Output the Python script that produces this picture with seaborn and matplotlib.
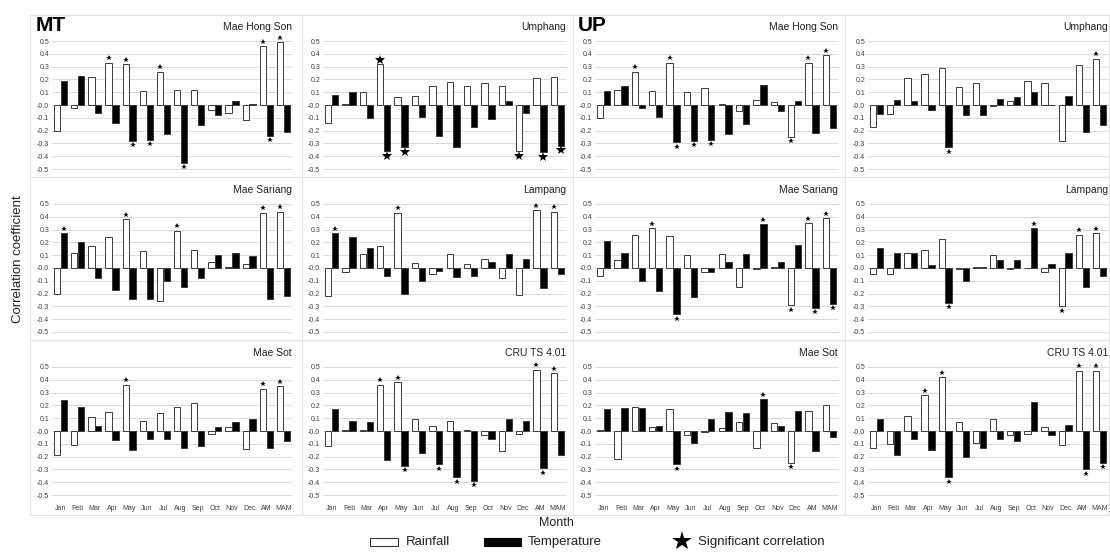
import numpy as np
import pandas as pd
import matplotlib
matplotlib.use("Agg")
import matplotlib.pyplot as plt
import seaborn as sns
from matplotlib.patches import Rectangle

sns.set_style("white")
plt.rcParams["font.family"] = ["Liberation Sans", "DejaVu Sans"]

months = ["Jan", "Feb", "Mar", "Apr", "May", "Jun", "Jul", "Aug", "Sep",
          "Oct", "Nov", "Dec", "AM", "MAM"]

# ── MT ─────────────────────────────────────────────────────────────────────
mt_mhs_rain = [-0.20, -0.02, 0.22, 0.33, 0.32, 0.11, 0.26, 0.12, 0.12, -0.04, -0.06, -0.12, 0.46, 0.49]
mt_mhs_temp = [0.19, 0.23, -0.06, -0.14, -0.28, -0.27, -0.23, -0.45, -0.16, -0.08, 0.03, 0.005, -0.24, -0.21]
mt_mhs_rain_sig = ["Apr", "May", "Jul", "AM", "MAM"]
mt_mhs_temp_sig = ["May", "Jun", "Aug", "AM"]

mt_ump_rain = [-0.14, 0.01, 0.10, 0.32, 0.06, 0.07, 0.15, 0.18, 0.15, 0.17, 0.15, -0.36, 0.21, 0.22]
mt_ump_temp = [0.08, 0.10, -0.10, -0.36, -0.33, -0.09, -0.24, -0.33, -0.17, -0.11, 0.03, -0.06, -0.37, -0.32]
mt_ump_rain_sig = ["Apr", "Dec"]
mt_ump_temp_sig = ["Apr", "May", "AM", "MAM"]

mt_msr_rain = [-0.20, 0.12, 0.17, 0.24, 0.38, 0.13, -0.26, 0.29, 0.14, 0.05, 0.01, 0.03, 0.43, 0.44]
mt_msr_temp = [0.27, 0.20, -0.08, -0.17, -0.24, -0.24, -0.10, -0.15, -0.08, 0.10, 0.12, 0.09, -0.24, -0.22]
mt_msr_rain_sig = ["May", "Aug", "AM", "MAM"]
mt_msr_temp_sig = ["Jan"]

mt_lpg_rain = [-0.22, -0.03, 0.11, 0.17, 0.43, 0.04, -0.05, 0.11, 0.03, 0.07, -0.08, -0.21, 0.45, 0.44]
mt_lpg_temp = [0.27, 0.24, 0.16, -0.06, -0.20, -0.10, -0.02, -0.07, -0.06, 0.05, 0.11, 0.07, -0.16, -0.05]
mt_lpg_rain_sig = ["May", "AM", "MAM"]
mt_lpg_temp_sig = ["Jan"]

mt_mst_rain = [-0.19, -0.11, 0.11, 0.15, 0.36, 0.08, 0.14, 0.19, 0.22, -0.02, 0.03, -0.14, 0.33, 0.35]
mt_mst_temp = [0.24, 0.19, 0.04, -0.07, -0.15, -0.06, -0.06, -0.13, -0.12, 0.03, 0.07, 0.09, -0.13, -0.08]
mt_mst_rain_sig = ["May", "AM", "MAM"]
mt_mst_temp_sig = []

mt_cru_rain = [-0.12, 0.01, 0.005, 0.36, 0.38, 0.09, 0.04, 0.08, 0.005, -0.03, -0.16, -0.02, 0.48, 0.45]
mt_cru_temp = [0.17, 0.08, 0.07, -0.23, -0.27, -0.17, -0.26, -0.36, -0.39, -0.06, 0.09, 0.08, -0.29, -0.19]
mt_cru_rain_sig = ["Apr", "May", "AM", "MAM"]
mt_cru_temp_sig = ["May", "Jul", "Aug", "Sep", "AM"]

# ── UP ─────────────────────────────────────────────────────────────────────
up_mhs_rain = [-0.10, 0.12, 0.26, 0.11, 0.33, 0.10, 0.13, 0.005, -0.05, 0.04, 0.02, -0.25, 0.33, 0.39]
up_mhs_temp = [0.11, 0.15, -0.02, -0.09, -0.29, -0.28, -0.27, -0.23, -0.15, 0.16, -0.05, 0.03, -0.22, -0.18]
up_mhs_rain_sig = ["Mar", "May", "Dec", "AM", "MAM"]
up_mhs_temp_sig = ["May", "Jun", "Jul"]

up_ump_rain = [-0.17, -0.07, 0.21, 0.24, 0.29, 0.14, 0.17, -0.01, 0.03, 0.19, 0.17, -0.28, 0.31, 0.36]
up_ump_temp = [-0.07, 0.04, 0.03, -0.04, -0.33, -0.08, -0.08, 0.05, 0.06, 0.10, 0.0, 0.07, -0.21, -0.16]
up_ump_rain_sig = ["MAM"]
up_ump_temp_sig = ["May"]

up_msr_rain = [-0.06, 0.06, 0.26, 0.31, 0.25, 0.10, -0.03, 0.11, -0.15, -0.01, 0.01, -0.29, 0.35, 0.39]
up_msr_temp = [0.21, 0.12, -0.10, -0.18, -0.36, -0.23, -0.03, 0.05, 0.11, 0.34, 0.05, 0.18, -0.31, -0.28]
up_msr_rain_sig = ["Apr", "Dec", "AM", "MAM"]
up_msr_temp_sig = ["May", "Oct", "AM", "MAM"]

up_lpg_rain = [-0.05, -0.05, 0.12, 0.14, 0.23, -0.01, 0.01, 0.10, -0.005, 0.0, -0.03, -0.30, 0.26, 0.27]
up_lpg_temp = [0.16, 0.12, 0.12, 0.02, -0.27, -0.10, 0.01, 0.06, 0.06, 0.31, 0.03, 0.12, -0.15, -0.06]
up_lpg_rain_sig = ["Dec", "AM", "MAM"]
up_lpg_temp_sig = ["May", "Oct"]

up_mst_rain = [0.01, -0.22, 0.19, 0.03, 0.17, -0.03, -0.005, 0.02, 0.07, -0.13, 0.06, -0.25, 0.16, 0.20]
up_mst_temp = [0.17, 0.18, 0.18, 0.04, -0.26, -0.09, 0.09, 0.15, 0.14, 0.25, 0.04, 0.16, -0.16, -0.05]
up_mst_rain_sig = ["Dec"]
up_mst_temp_sig = ["May", "Oct"]

up_cru_rain = [-0.13, -0.10, 0.12, 0.28, 0.42, 0.07, -0.09, 0.09, -0.03, -0.02, 0.03, -0.11, 0.47, 0.47]
up_cru_temp = [0.09, -0.19, -0.06, -0.15, -0.36, -0.20, -0.13, -0.06, -0.08, 0.23, -0.03, 0.05, -0.30, -0.25]
up_cru_rain_sig = ["Apr", "May", "AM", "MAM"]
up_cru_temp_sig = ["May", "AM", "MAM"]

# (row, col, title, rain, temp, rain_sig, temp_sig, star size)
panels = [
    (0, 0, "Mae Hong Son", mt_mhs_rain, mt_mhs_temp, mt_mhs_rain_sig, mt_mhs_temp_sig, 4),
    (0, 1, "Umphang", mt_ump_rain, mt_ump_temp, mt_ump_rain_sig, mt_ump_temp_sig, 7),
    (0, 2, "Mae Hong Son", up_mhs_rain, up_mhs_temp, up_mhs_rain_sig, up_mhs_temp_sig, 4),
    (0, 3, "Umphang", up_ump_rain, up_ump_temp, up_ump_rain_sig, up_ump_temp_sig, 4),
    (1, 0, "Mae Sariang", mt_msr_rain, mt_msr_temp, mt_msr_rain_sig, mt_msr_temp_sig, 4),
    (1, 1, "Lampang", mt_lpg_rain, mt_lpg_temp, mt_lpg_rain_sig, mt_lpg_temp_sig, 4),
    (1, 2, "Mae Sariang", up_msr_rain, up_msr_temp, up_msr_rain_sig, up_msr_temp_sig, 4),
    (1, 3, "Lampang", up_lpg_rain, up_lpg_temp, up_lpg_rain_sig, up_lpg_temp_sig, 4),
    (2, 0, "Mae Sot", mt_mst_rain, mt_mst_temp, mt_mst_rain_sig, mt_mst_temp_sig, 4),
    (2, 1, "CRU TS 4.01", mt_cru_rain, mt_cru_temp, mt_cru_rain_sig, mt_cru_temp_sig, 4),
    (2, 2, "Mae Sot", up_mst_rain, up_mst_temp, up_mst_rain_sig, up_mst_temp_sig, 4),
    (2, 3, "CRU TS 4.01", up_cru_rain, up_cru_temp, up_cru_rain_sig, up_cru_temp_sig, 4),
]

W, H = 1110, 554
fig = plt.figure(figsize=(W / 100, H / 100), dpi=100)

# layout in pixels
col_plot = [(52, 292), (323, 566), (595, 838), (868, 1108)]
col_frame = [30, 302, 573, 845, 1109]
row_top = [41, 204, 367]          # y pixel of r = 0.5
row_frame = [15, 177, 340, 515]
px_per_unit = 128                 # 0.5 .. -0.5
pad = 0.035

for (r, c, title, rain, temp, rsig, tsig, ssize) in panels:
    x0, x1 = col_plot[c]
    ytop = row_top[r] - pad * px_per_unit
    ybot = row_top[r] + (1 + pad) * px_per_unit
    ax = fig.add_axes([x0 / W, 1 - ybot / H, (x1 - x0) / W, (ybot - ytop) / H])

    df = pd.DataFrame({
        "Month": months * 2,
        "r": list(rain) + list(temp),
        "Variable": ["Rainfall"] * 14 + ["Temperature"] * 14,
    })
    sns.barplot(data=df, x="Month", y="r", hue="Variable", order=months,
                palette={"Rainfall": "white", "Temperature": "black"},
                edgecolor="#3a3a3a", linewidth=0.7, width=0.8, gap=0.08,
                legend=False, ax=ax, zorder=3)

    # significance stars from the drawn bars
    for p in ax.patches:
        cx = p.get_x() + p.get_width() / 2
        h = p.get_height()
        i = int(round(cx))
        sig = rsig if cx < i else tsig
        if months[i] in sig:
            ax.plot(cx, h + np.sign(h) * 0.035, marker="*", color="black",
                    markersize=ssize, markeredgewidth=0, zorder=4, clip_on=False)

    ax.set_ylim(-0.5 - pad, 0.5 + pad)
    ax.set_xlim(-0.5, 13.5)
    yt = np.round(np.arange(-0.5, 0.51, 0.1), 1)
    ax.set_yticks(yt)
    ax.set_yticklabels([f"{v:.1f}" for v in yt])
    ax.yaxis.grid(True, color="#d9d9d9", linewidth=0.7, zorder=0)
    ax.set_axisbelow(True)
    for s in ax.spines.values():
        s.set_visible(False)
    ax.tick_params(axis="y", labelsize=5, colors="#404040", length=0, pad=2)
    ax.tick_params(axis="x", labelsize=5, colors="#404040", length=0, pad=4)
    ax.set_xlabel("")
    ax.set_ylabel("")
    if r < 2:
        ax.set_xticklabels([])

    ax.text(1.0, 0.61, title, transform=ax.get_yaxis_transform(), ha="right",
            va="center", fontsize=7.5, color="#222222",
            bbox=dict(facecolor="white", edgecolor="none", pad=1.5))
    if r == 0 and c in (0, 2):
        ax.text(-0.07, 0.62, "MT" if c == 0 else "UP",
                transform=ax.get_yaxis_transform(), ha="left", va="center",
                fontsize=15, fontweight="bold", color="black")

    fig.add_artist(Rectangle((col_frame[c] / W, 1 - row_frame[r + 1] / H),
                             (col_frame[c + 1] - col_frame[c]) / W,
                             (row_frame[r + 1] - row_frame[r]) / H,
                             transform=fig.transFigure, fill=False,
                             edgecolor="#e3e3e3", linewidth=0.8))

fig.text(18 / W, 1 - 259 / H, "Correlation coefficient", rotation=90,
         ha="center", va="center", fontsize=9.5, color="#222222")
fig.text(556 / W, 1 - 523 / H, "Month", ha="center", va="center",
         fontsize=9, color="#222222")

# legend keys placed like the original Excel legend
ly = 542
fig.add_artist(Rectangle((370 / W, 1 - (ly + 4) / H), 28 / W, 8 / H,
                         transform=fig.transFigure, facecolor="white",
                         edgecolor="#3a3a3a", linewidth=0.8))
fig.text(406 / W, 1 - ly / H, "Rainfall", ha="left", va="center",
         fontsize=9.5, color="#222222")
fig.add_artist(Rectangle((484 / W, 1 - (ly + 4) / H), 37 / W, 8 / H,
                         transform=fig.transFigure, facecolor="black",
                         edgecolor="black", linewidth=0.8))
fig.text(528 / W, 1 - ly / H, "Temperature", ha="left", va="center",
         fontsize=9.5, color="#222222")
fig.add_artist(plt.Line2D([682 / W], [1 - (ly - 1) / H], marker="*",
                          markersize=15, color="black", markeredgewidth=0,
                          transform=fig.transFigure))
fig.text(698 / W, 1 - ly / H, "Significant correlation", ha="left",
         va="center", fontsize=9.5, color="#222222")

fig.savefig("out.png", dpi=100, facecolor="white")
